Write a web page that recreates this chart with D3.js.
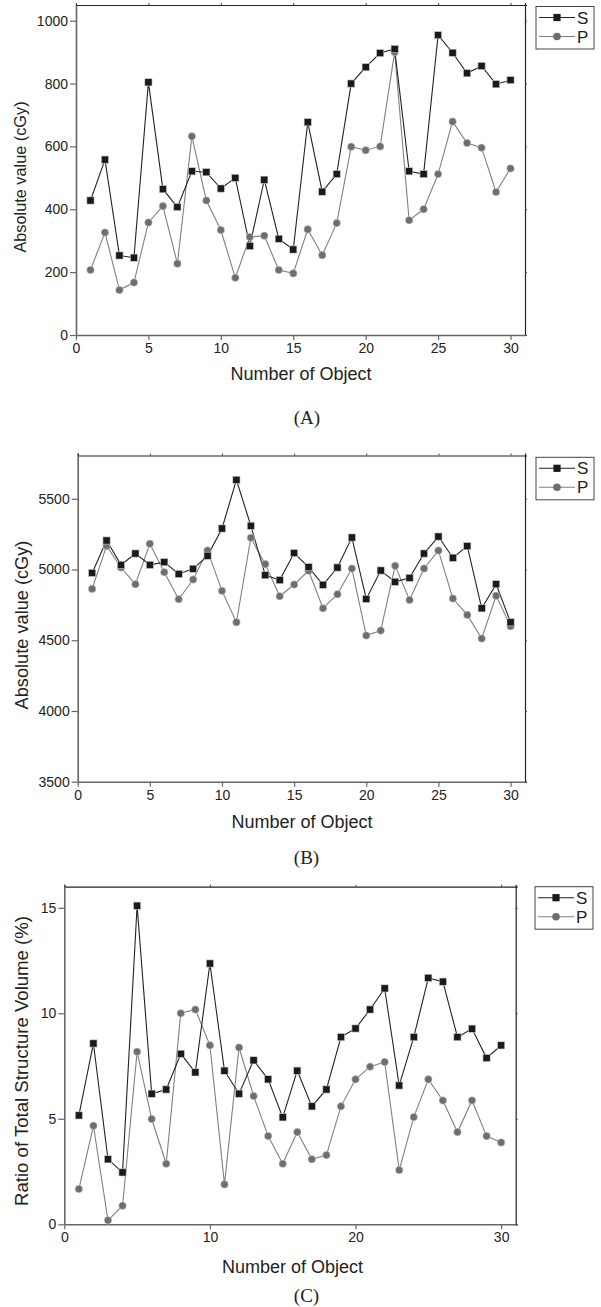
<!DOCTYPE html>
<html>
<head>
<meta charset="utf-8">
<script src="https://cdn.jsdelivr.net/npm/d3@7"></script>
<style>
  body { margin: 0; background: #fff; }
  svg text { font-family: "Liberation Sans", Arial, sans-serif; fill: #222; }
  .cap { font-family: "Liberation Serif", "Times New Roman", serif; }
</style>
</head>
<body>
<div id="chart"></div>
<script>
// object numbers 1..30
var objects = [1,2,3,4,5,6,7,8,9,10,11,12,13,14,15,16,17,18,19,20,21,22,23,24,25,26,27,28,29,30];

// (A) absolute value (cGy)
var aS = [428,558,253,246,804,464,407,521,518,466,500,283,494,306,272,677,456,512,800,852,897,910,521,512,954,898,833,856,798,811];
var aP = [207,326,143,167,358,410,227,632,428,334,182,312,316,207,196,336,254,356,599,588,600,900,365,400,512,679,611,596,455,530];

// (B) absolute value (cGy)
var bS = [4976,5205,5033,5113,5033,5052,4969,5005,5097,5290,5634,5309,4960,4925,5116,5017,4892,5014,5226,4792,4993,4913,4941,5113,5233,5083,5165,4726,4896,4627];
var bP = [4863,5167,5014,4896,5182,4981,4790,4929,5134,4849,4627,5224,5038,4811,4894,4991,4726,4825,5007,4533,4568,5026,4785,5007,5134,4795,4679,4512,4814,4599];

// (C) ratio of total structure volume (%)
var cS = [5.16,8.57,3.08,2.46,15.1,6.19,6.39,8.08,7.2,12.36,7.28,6.19,7.77,6.87,5.07,7.28,5.59,6.39,8.87,9.28,10.18,11.18,6.58,8.87,11.68,11.5,8.87,9.27,7.88,8.48];
var cP = [1.67,4.67,0.19,0.88,8.18,4.99,2.87,10.0,10.18,8.48,1.89,8.38,6.08,4.18,2.87,4.37,3.08,3.28,5.59,6.87,7.47,7.69,2.57,5.08,6.87,5.87,4.37,5.87,4.18,3.88];

var seriesNames = ["S", "P"];
var xTicksAB = [0,5,10,15,20,25,30];
var xTicksC = [0,10,20,30];
var yTicksA = [0,200,400,600,800,1000];
var yTicksB = [3500,4000,4500,5000,5500];
var yTicksC = [0,5,10,15];

var svg = d3.select("#chart").append("svg")
    .attr("width", 601)
    .attr("height", 1307);

function panel(p) {
  var x = d3.scaleLinear().domain([0, 31]).range([p.left, p.right]);
  var y = d3.scaleLinear().domain(p.ydom).range([p.bottom, p.top]);
  var g = svg.append("g");

  // frame: top and right darker, left and bottom gray
  g.append("g").attr("transform", "translate(0," + p.top + ")")
    .call(d3.axisTop(x).tickValues(p.xticks).tickSize(2).tickFormat(""))
    .call(function (a) { a.select(".domain").attr("stroke", "#222").attr("stroke-width", 1.2); a.selectAll("line").attr("stroke", "#444"); });
  g.append("g").attr("transform", "translate(" + p.right + ",0)")
    .call(d3.axisRight(y).tickValues(p.yticks).tickSize(2).tickFormat(""))
    .call(function (a) { a.select(".domain").attr("stroke", "#222").attr("stroke-width", 1.2); a.selectAll("line").attr("stroke", "#444"); });

  var xa = g.append("g").attr("transform", "translate(0," + p.bottom + ")")
    .call(d3.axisBottom(x).tickValues(p.xticks).tickFormat(d3.format("d")).tickSize(5).tickSizeOuter(0).tickPadding(3));
  var ya = g.append("g").attr("transform", "translate(" + p.left + ",0)")
    .call(d3.axisLeft(y).tickValues(p.yticks).tickFormat(d3.format("d")).tickSize(6).tickSizeOuter(0).tickPadding(2));
  [xa, ya].forEach(function (a) {
    a.select(".domain").attr("stroke", "#666").attr("stroke-width", 1.6);
    a.selectAll(".tick line").attr("stroke", "#666").attr("stroke-width", 1.2);
    a.selectAll(".tick text").style("font-size", "14px").attr("fill", "#222")
      .style("font-family", "'Liberation Sans', Arial, sans-serif");
  });

  // lines and markers
  var line = d3.line()
    .x(function (d, i) { return x(objects[i]); })
    .y(function (d) { return y(d); });

  g.append("path").datum(p.P).attr("d", line)
    .attr("fill", "none").attr("stroke", "#808080").attr("stroke-width", 1.1);
  g.append("path").datum(p.S).attr("d", line)
    .attr("fill", "none").attr("stroke", "#222").attr("stroke-width", 1.1);

  g.selectAll(".pc").data(p.P).enter().append("circle")
    .attr("cx", function (d, i) { return x(objects[i]); })
    .attr("cy", function (d) { return y(d); })
    .attr("r", 3.8)
    .attr("fill", "#6e6e6e").attr("stroke", "#ddd").attr("stroke-width", 0.5);
  g.selectAll(".sq").data(p.S).enter().append("rect")
    .attr("x", function (d, i) { return x(objects[i]) - 3.6; })
    .attr("y", function (d) { return y(d) - 3.6; })
    .attr("width", 7.2).attr("height", 7.2)
    .attr("fill", "#1a1a1a").attr("stroke", "#ccc").attr("stroke-width", 0.6);

  // axis titles
  g.append("text")
    .attr("transform", "translate(" + p.ylabX + "," + p.ylabY + ") rotate(-90)")
    .attr("text-anchor", "middle").attr("dy", "0.35em")
    .style("font-size", p.ylabSize + "px")
    .text(p.ylab);
  g.append("text")
    .attr("x", p.xlabX).attr("y", p.xlabY)
    .attr("text-anchor", "middle")
    .style("font-size", "18px")
    .text("Number of Object");
  g.append("text").attr("class", "cap")
    .attr("x", p.capX).attr("y", p.capY)
    .attr("text-anchor", "middle")
    .style("font-size", "19px").attr("fill", "#333")
    .text(p.cap);

  // legend
  var lg = g.append("g").attr("transform", "translate(" + p.legX + "," + p.legY + ")");
  lg.append("rect").attr("x", 0).attr("y", 0).attr("width", 58).attr("height", 42.5)
    .attr("fill", "#fff").attr("stroke", "#444").attr("stroke-width", 1);
  seriesNames.forEach(function (nm, i) {
    var ry = 11 + i * 19;
    var col = i === 0 ? "#222" : "#808080";
    lg.append("line").attr("x1", 3).attr("x2", 39).attr("y1", ry).attr("y2", ry)
      .attr("stroke", col).attr("stroke-width", 1.1);
    if (i === 0) {
      lg.append("rect").attr("x", 21 - 3.6).attr("y", ry - 3.6).attr("width", 7.2).attr("height", 7.2)
        .attr("fill", "#1a1a1a");
    } else {
      lg.append("circle").attr("cx", 21).attr("cy", ry).attr("r", 3.8).attr("fill", "#6e6e6e");
    }
    lg.append("text").attr("x", 41).attr("y", ry).attr("dy", "0.36em")
      .style("font-size", "17px").text(nm);
  });
}

panel({ S: aS, P: aP, left: 76, right: 525, top: 5, bottom: 335, ydom: [0, 1050],
  xticks: xTicksAB, yticks: yTicksA, ylab: "Absolute value (cGy)", ylabSize: 16.3, ylabX: 20, ylabY: 177,
  xlabX: 301, xlabY: 380, cap: "(A)", capX: 307, capY: 424, legX: 536, legY: 6.5 });

panel({ S: bS, P: bP, left: 77.7, right: 525, top: 455.5, bottom: 781.7, ydom: [3500, 5806],
  xticks: xTicksAB, yticks: yTicksB, ylab: "Absolute value (cGy)", ylabSize: 18.2, ylabX: 22, ylabY: 625,
  xlabX: 302, xlabY: 828, cap: "(B)", capX: 306.5, capY: 864, legX: 536, legY: 457.3 });

panel({ S: cS, P: cP, left: 64.3, right: 515.7, top: 886.7, bottom: 1224.3, ydom: [0, 16],
  xticks: xTicksC, yticks: yTicksC, ylab: "Ratio of Total Structure Volume (%)", ylabSize: 18.6, ylabX: 21, ylabY: 1061,
  xlabX: 292.5, xlabY: 1273, cap: "(C)", capX: 306.5, capY: 1302, legX: 535, legY: 886.7 });
</script>
</body>
</html>
